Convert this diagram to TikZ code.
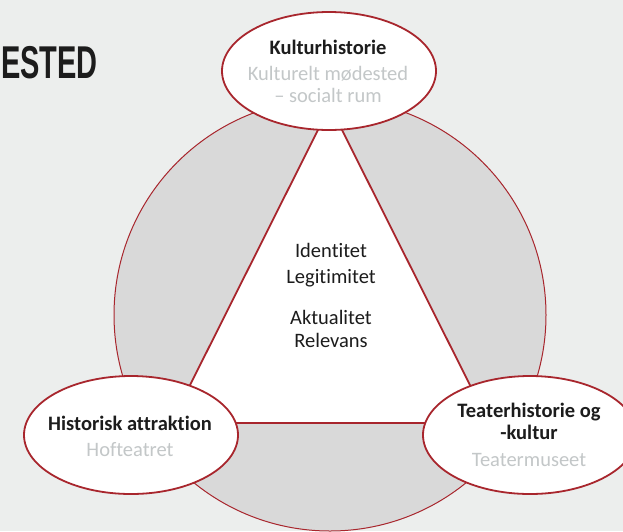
\documentclass[tikz,border=0pt]{standalone}
\usepackage{fontspec}
\setmainfont[Ligatures=NoCommon]{Carlito}
\newfontfamily\titlefont{Liberation Sans}
\usetikzlibrary{shapes.geometric}
\definecolor{bg}{HTML}{ECEEED}
\definecolor{fillgray}{HTML}{D9D9D9}
\definecolor{dred}{HTML}{A8262D}
\definecolor{txtgray}{HTML}{C3C7C8}
\definecolor{txtblack}{HTML}{1C1C1C}
\tikzset{
  ell/.style={ellipse, draw=dred, line width=1.8pt, fill=white, minimum width=214pt, minimum height=118pt, inner sep=0pt},
  headtxt/.style={anchor=base, inner sep=0pt, text=txtblack, font=\fontsize{20.5}{24}\selectfont\bfseries},
  subtxt/.style={anchor=base, inner sep=0pt, text=txtgray, font=\fontsize{20.5}{24}\selectfont},
  midtxt/.style={anchor=base, inner sep=0pt, text=txtblack, font=\fontsize{20.5}{24}\selectfont},
}
\begin{document}
\begin{tikzpicture}[x=1pt,y=-1pt]
\useasboundingbox (0,0) rectangle (623,531);
\fill[bg] (0,0) rectangle (623,531);
% title fragment
\node[anchor=base east, inner sep=0pt, text=txtblack, font=\titlefont\bfseries\fontsize{46}{50}\selectfont] (title) at (98,78) {\scalebox{0.63}[1]{ESTED}};
% big circle
\coordinate (c) at (330,315);
\draw[dred, line width=1pt, fill=fillgray] (c) circle[radius=216];
% triangle
\coordinate (apex) at (330,106);
\coordinate (bl) at (171,423);
\coordinate (br) at (489,423);
\draw[dred, line width=1.8pt, fill=white, line join=miter] (apex) -- (bl) -- (br) -- cycle;
% ellipses
\node[ell] (top) at (329,71) {};
\node[ell] (left) at (131,435) {};
\node[ell] (right) at (530,435) {};
% texts
\node[headtxt] (t1) at (328,54) {Kulturhistorie};
\node[subtxt] (t2) at (328,80.5) {Kulturelt mødested};
\node[subtxt] (t3) at (328,102) {– socialt rum};
\node[headtxt] (l1) at (130,430) {Historisk attraktion};
\node[subtxt] (l2) at (130,456) {Hofteatret};
\node[headtxt] (r1) at (529,417) {Teaterhistorie og};
\node[headtxt] (r2) at (529,439) {-kultur};
\node[subtxt] (r3) at (529,466) {Teatermuseet};
\node[midtxt] (m1) at (331,257) {Identitet};
\node[midtxt] (m2) at (331,283) {Legitimitet};
\node[midtxt] (m3) at (331,324) {Aktualitet};
\node[midtxt] (m4) at (331,347) {Relevans};
\end{tikzpicture}
\end{document}
